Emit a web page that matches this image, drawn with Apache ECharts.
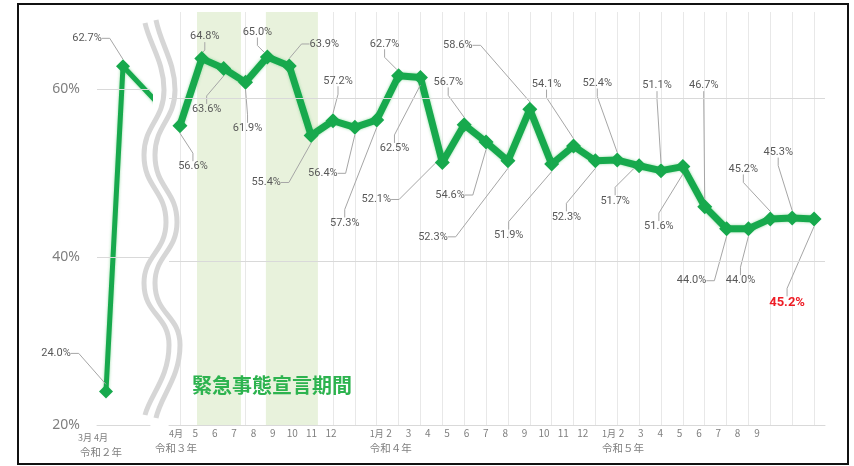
<!DOCTYPE html>
<html><head><meta charset="utf-8">
<script src="https://cdn.jsdelivr.net/npm/echarts@6/dist/echarts.min.js"></script>
<style>html,body{margin:0;padding:0;background:#fff}#c{width:854px;height:466px}</style>
</head><body><div id="c"></div>
<script>
// ---------- data ----------
const leftMonths = ['3月', '4月'];
const leftYear = '令和２年';
const leftValues = [24.0, 62.7];
const leftX = [0, 1, 3];              // month slots on the left (third = cut-off continuation)
const leftContinuation = 58.4;        // estimated value the cut-off segment heads to
const rightMonthLabels = ['4月','5','6','7','8','9','10','11','12','','1月','2','3','4','5','6','7','8','9','10','11','12','1月','2','3','4','5','6','7','8','9'];
const rightYearLabels = {0: '令和３年', 10: '令和４年', 22: '令和５年'};
const rightValues = [56.6,64.8,63.6,61.9,65.0,63.9,55.4,57.2,56.4,57.3,62.7,62.5,52.1,56.7,54.6,52.3,58.6,51.9,54.1,52.3,52.4,51.7,51.1,51.6,46.7,44.0,44.0,45.2,45.3,45.2];
const yTicks = [20, 40, 60];
const emergencyPeriods = [[0.78, 2.79], [3.93, 6.31]];
const emergencyLabel = '緊急事態宣言期間';

// ---------- layout (label offsets, px) ----------
const leftLabelOffsets = [[-50,-38],[-36,-28]];
const rightLabelOffsets = [[13,41],[3,-22],[-17,41],[2,46],[-10,-25],[35,-22],[-45,47],[5,-40],[-32,46],[-32,103],[-14,-32],[-26,71],[-66,37],[-16,-43],[-36,53],[-75,76],[-72,-64],[-43,71],[-27,-62],[-29,56],[-20,-77],[-24,35],[-4,-85],[-24,60],[-1,-121],[-35,52],[-8,52],[-27,-50],[-14,-66],[-27,84]];

// wavy axis-break decoration (bezier segments: start, cp1, cp2, end)
const waveSegs = [
  [145,23, 150,45, 164,62, 164,90],
  [164,90, 164,120, 144,125, 144,155],
  [144,155, 144,188, 166,190, 166,222],
  [166,222, 166,252, 144,255, 144,283],
  [144,283, 144,315, 169,315, 169,345],
  [169,345, 169,378, 150,395, 145,415]
];

const GREEN = '#17a94d';
const GRID = '#d9d9d9';
const fmtPct = v => v.toFixed(1) + '%';

const leftData = leftValues.map((v, i) => [leftX[i], v]);
leftData.push({value: [leftX[2], leftContinuation], label: {show: false}, symbol: 'none'});

const rightData = rightValues.map((v, i) => {
  const item = {value: [i, v]};
  if (i === rightValues.length - 1) {
    item.label = {color: '#ee1c25', fontWeight: 'bold', fontSize: 13};
  }
  return item;
});

const isMonthWord = m => m.indexOf('月') >= 0;
const leftCats = leftMonths.map((m, i) => i === leftMonths.length - 1
  ? {value: '{m|' + m + '}\n{y|' + leftYear + '}', textStyle: {align: 'center'}}
  : '{m|' + m + '}');
const rightCats = rightMonthLabels.map((m, i) => {
  if (rightYearLabels[i] !== undefined) {
    return {value: '{m|' + m + '}\n{y|' + rightYearLabels[i] + '}', textStyle: {align: i === 0 ? 'center' : 'left'}};
  }
  return isMonthWord(m) ? '{m|' + m + '}' : m;
});

const FONT_JP = '"Noto Sans CJK JP", "Noto Sans", sans-serif';
const labelFont = {fontFamily: FONT_JP, fontSize: 10, color: '#7f7f7f', lineHeight: 15,
  rich: {
    m: {fontFamily: FONT_JP, fontSize: 9, color: '#7f7f7f', lineHeight: 15},
    y: {fontFamily: FONT_JP, fontSize: 10.5, color: '#7f7f7f', lineHeight: 15}
  }};

const waveEls = [];
[0, 11].forEach(dx => {
  waveSegs.forEach((s, k) => {
    let y1 = s[1], y2 = s[7];
    if (dx && k === 0) y1 -= 3;
    if (dx && k === waveSegs.length - 1) y2 += 3;
    waveEls.push({type: 'bezierCurve', silent: true, z: 1,
      shape: {x1: s[0] + dx, y1: y1, cpx1: s[2] + dx, cpy1: s[3], cpx2: s[4] + dx, cpy2: s[5], x2: s[6] + dx, y2: y2},
      style: {fill: 'none', stroke: '#d6d6d6', lineWidth: 5}});
  });
});

const lineGlow = {shadowColor: 'rgba(120,210,140,0.8)', shadowBlur: 3};

const chart = echarts.init(document.getElementById('c'), null, {renderer: 'canvas'});
chart.setOption({
  animation: false,
  backgroundColor: '#fff',
  grid: [
    {left: 97, width: 53, top: 5, height: 420},
    {left: 85, width: 16, top: 5, height: 420},
    {left: 169, width: 656, top: 12, height: 413},
    {left: 176, width: 581, top: 12, height: 413}
  ],
  xAxis: [
    {gridIndex: 0, type: 'value', min: -0.529, max: 2.588,
     axisLine: {show: true, onZero: false, lineStyle: {color: GRID}}, axisTick: {show: false},
     axisLabel: {show: false}, splitLine: {show: false}},
    {gridIndex: 1, type: 'category', data: leftCats, boundaryGap: false,
     axisLine: {show: false}, axisTick: {show: false}, splitLine: {show: false},
     axisLabel: Object.assign({interval: 0, margin: 5}, labelFont)},
    {gridIndex: 2, type: 'value', min: -0.5, max: 29.5, interval: 1,
     axisLine: {show: true, onZero: false, lineStyle: {color: GRID}}, axisTick: {show: false},
     axisLabel: {show: false}, splitLine: {show: false},
     minorTick: {show: false, splitNumber: 2},
     minorSplitLine: {show: true, lineStyle: {color: '#e8e8e8', width: 1}}},
    {gridIndex: 3, type: 'category', data: rightCats, boundaryGap: false,
     axisLine: {show: false}, axisTick: {show: false}, splitLine: {show: false},
     axisLabel: Object.assign({interval: 0, margin: 1}, labelFont)}
  ],
  yAxis: [
    {gridIndex: 0, type: 'value', min: yTicks[0], max: 70, interval: 20,
     axisLine: {show: false, onZero: false}, axisTick: {show: false}, splitLine: {show: false},
     axisLabel: {margin: 17, fontSize: 14, color: '#7f7f7f', fontFamily: '"Noto Sans", sans-serif',
       formatter: v => yTicks.indexOf(v) >= 0 ? v + '%' : ''}},
    {gridIndex: 1, type: 'value', show: false},
    {gridIndex: 2, type: 'value', min: 20, max: 70.5, show: false, axisLine: {onZero: false}},
    {gridIndex: 3, type: 'value', show: false}
  ],
  series: [
    {
      type: 'line', xAxisIndex: 0, yAxisIndex: 0, data: leftData, clip: true,
      symbol: 'diamond', symbolSize: 14, itemStyle: {color: GREEN},
      lineStyle: Object.assign({color: GREEN, width: 5}, lineGlow),
      label: {show: true, position: 'inside', formatter: p => fmtPct(p.value[1]),
        fontFamily: 'Roboto, sans-serif', fontSize: 11, color: '#595959'},
      labelLine: {show: true, length2: 8, lineStyle: {color: '#a6a6a6', width: 1}},
      labelLayout: p => {
        const o = leftLabelOffsets[p.dataIndex];
        return o ? {dx: o[0], dy: o[1]} : {};
      },
      markLine: {silent: true, symbol: 'none', label: {show: false},
        lineStyle: {color: GRID, width: 1, type: 'solid', shadowBlur: 0},
        data: yTicks.slice(1).map(t => ({yAxis: t}))},
      z: 3
    },
    {
      type: 'line', xAxisIndex: 2, yAxisIndex: 2, data: rightData, clip: false,
      symbol: 'diamond', symbolSize: 15, itemStyle: {color: GREEN},
      lineStyle: Object.assign({color: GREEN, width: 7}, lineGlow),
      label: {show: true, position: 'inside', formatter: p => fmtPct(p.value[1]),
        fontFamily: 'Roboto, sans-serif', fontSize: 11, color: '#595959'},
      labelLine: {show: true, length2: 8, lineStyle: {color: '#a6a6a6', width: 1}},
      labelLayout: p => {
        const o = rightLabelOffsets[p.dataIndex];
        return {dx: o[0], dy: o[1]};
      },
      markArea: {silent: true, itemStyle: {color: '#e8f2dc'},
        data: emergencyPeriods.map(r => [{xAxis: r[0]}, {xAxis: r[1]}])},
      markLine: {silent: true, symbol: 'none', label: {show: false},
        lineStyle: {color: GRID, width: 1, type: 'solid', shadowBlur: 0},
        data: yTicks.slice(1).map(t => ({yAxis: t}))},
      z: 3
    }
  ],
  graphic: waveEls.concat([
    {type: 'text', silent: true, x: 192, y: 385, z: 5,
     style: {text: emergencyLabel, fill: '#2db34f', font: 'bold 20px "Noto Sans CJK JP"', verticalAlign: 'middle'}},
    {type: 'rect', silent: true, z: 10,
     shape: {x: 18, y: 4, width: 830, height: 460},
     style: {fill: 'none', stroke: '#111', lineWidth: 2}}
  ])
});
</script>
</body></html>
